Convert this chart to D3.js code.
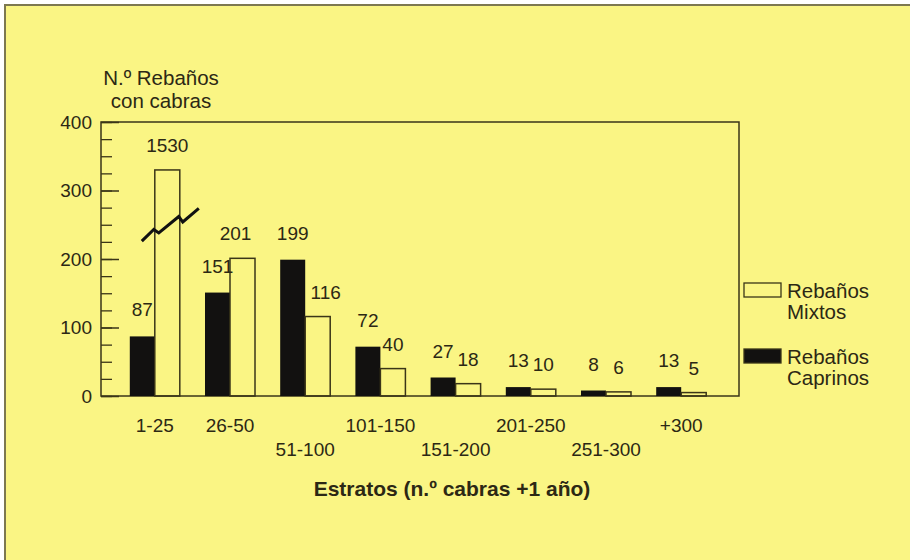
<!DOCTYPE html>
<html>
<head>
<meta charset="utf-8">
<script src="https://cdn.jsdelivr.net/npm/d3@7"></script>
<style>
  body { margin: 0; background: #ffffff; }
  text { font-family: "Liberation Sans", Arial, sans-serif; fill: #2c2814; }
</style>
</head>
<body>
<script>
// data
var categories = ["1-25", "26-50", "51-100", "101-150", "151-200", "201-250", "251-300", "+300"];
var caprinos = [87, 151, 199, 72, 27, 13, 8, 13];
var mixtos = [1530, 201, 116, 40, 18, 10, 6, 5];
var yTicks = [0, 100, 200, 300, 400];
var breakValue = 330; // the 1530 bar is drawn cut at this height

var canvas = d3.select("body")
               .append("svg")
               .attr("width", 910)
               .attr("height", 560);

// yellow page with the left and top edge lines
canvas.append("rect")
      .attr("x", 5).attr("y", 5)
      .attr("width", 905).attr("height", 555)
      .attr("fill", "#faf584");
canvas.append("path")
      .attr("d", "M5,560V5H910")
      .attr("fill", "none")
      .attr("stroke", "#7d7850")
      .attr("stroke-width", 2);

var x = d3.scaleBand()
          .domain(categories)
          .range([104, 732])
          .paddingInner(0.335)
          .paddingOuter(0.343);

var y = d3.scaleLinear()
          .domain([0, 400])
          .range([396, 122]);

var half = x.bandwidth() / 2;

// plot box
canvas.append("rect")
      .attr("x", 101).attr("y", y(400))
      .attr("width", 638).attr("height", y(0) - y(400))
      .attr("fill", "none")
      .attr("stroke", "#3a3518")
      .attr("stroke-width", 1.5);

// minor ticks every 25, then major ticks with labels
canvas.append("g")
      .attr("transform", "translate(101,0)")
      .call(d3.axisLeft(y).tickValues(d3.range(0, 401, 25)).tickSize(-11).tickFormat(""))
      .call(function (g) { g.select(".domain").remove(); })
      .selectAll("line").attr("stroke", "#3a3518").attr("stroke-width", 1.3);

var yAxis = canvas.append("g")
      .attr("transform", "translate(101,0)")
      .call(d3.axisLeft(y).tickValues(yTicks).tickSize(-18).tickPadding(9))
      .call(function (g) { g.select(".domain").remove(); });
yAxis.selectAll("line").attr("stroke", "#3a3518").attr("stroke-width", 1.5);
yAxis.selectAll("text")
     .attr("font-size", 19)
     .attr("fill", "#2c2814")
     .style("font-family", "'Liberation Sans', Arial, sans-serif");

var rows = categories.map(function (c, i) {
  return { cat: c, cap: caprinos[i], mix: mixtos[i] };
});

// black bars: Rebaños Caprinos
canvas.selectAll("rect.cap")
      .data(rows)
      .enter()
      .append("rect")
      .attr("class", "cap")
      .attr("x", function (d) { return x(d.cat); })
      .attr("y", function (d) { return y(d.cap); })
      .attr("width", half)
      .attr("height", function (d) { return y(0) - y(d.cap); })
      .attr("fill", "#121110");

// outlined bars: Rebaños Mixtos
canvas.selectAll("rect.mix")
      .data(rows)
      .enter()
      .append("rect")
      .attr("class", "mix")
      .attr("x", function (d) { return x(d.cat) + half; })
      .attr("y", function (d) { return y(Math.min(d.mix, breakValue)); })
      .attr("width", half)
      .attr("height", function (d) { return y(0) - y(Math.min(d.mix, breakValue)); })
      .attr("fill", "none")
      .attr("stroke", "#3a3518")
      .attr("stroke-width", 1.5);

// value labels
canvas.selectAll("text.capv")
      .data(rows)
      .enter()
      .append("text")
      .attr("class", "capv")
      .attr("x", function (d) { return x(d.cat) + half / 2; })
      .attr("y", function (d) { return y(d.cap) - 20; })
      .attr("text-anchor", "middle")
      .attr("font-size", 19)
      .text(function (d) { return d.cap; });

canvas.selectAll("text.mixv")
      .data(rows)
      .enter()
      .append("text")
      .attr("class", "mixv")
      .attr("x", function (d) { return x(d.cat) + half * 1.5 + (d.cat === "51-100" ? 8 : d.cat === "26-50" ? -7 : 0); })
      .attr("y", function (d) { return y(Math.min(d.mix, breakValue)) - 18; })
      .attr("text-anchor", "middle")
      .attr("font-size", 19)
      .text(function (d) { return d.mix; });

// zigzag break mark over the 1530 bar
var bx = x(categories[0]) + half;
canvas.append("path")
      .attr("d", d3.line()([
        [bx - 13, y(226)], [bx - 1, y(243)], [bx + 4, y(238)],
        [bx + 24, y(262)], [bx + 28, y(254)], [bx + 44, y(274)]
      ]))
      .attr("fill", "none")
      .attr("stroke", "#111")
      .attr("stroke-width", 3);

// category labels: 51-100, 151-200 and 251-300 sit on a lower row
canvas.selectAll("text.cat")
      .data(categories)
      .enter()
      .append("text")
      .attr("class", "cat")
      .attr("x", function (d) { return x(d) + x.bandwidth() / 2; })
      .attr("y", function (d, i) { return (i > 0 && i % 2 === 0) ? 456 : 432; })
      .attr("text-anchor", "middle")
      .attr("font-size", 19)
      .text(function (d) { return d; });

// axis titles
canvas.append("text")
      .attr("x", 161).attr("y", 85)
      .attr("text-anchor", "middle")
      .attr("font-size", 20.5)
      .text("N.º Rebaños");
canvas.append("text")
      .attr("x", 161).attr("y", 108)
      .attr("text-anchor", "middle")
      .attr("font-size", 20.5)
      .text("con cabras");

canvas.append("text")
      .attr("x", 452).attr("y", 496)
      .attr("text-anchor", "middle")
      .attr("font-size", 21)
      .attr("font-weight", "bold")
      .text("Estratos (n.º cabras +1 año)");

// legend
var legend = [
  { name: ["Rebaños", "Mixtos"], fill: "none", y: 283 },
  { name: ["Rebaños", "Caprinos"], fill: "#121110", y: 349 }
];
var lg = canvas.selectAll("g.legend")
      .data(legend)
      .enter()
      .append("g")
      .attr("class", "legend")
      .attr("transform", function (d) { return "translate(744," + d.y + ")"; });
lg.append("rect")
  .attr("width", 37).attr("height", 14)
  .attr("fill", function (d) { return d.fill; })
  .attr("stroke", "#3a3518")
  .attr("stroke-width", 1.3);
lg.append("text")
  .attr("x", 43).attr("y", 15)
  .attr("font-size", 20.5)
  .text(function (d) { return d.name[0]; });
lg.append("text")
  .attr("x", 43).attr("y", 36)
  .attr("font-size", 20.5)
  .text(function (d) { return d.name[1]; });
</script>
</body>
</html>
